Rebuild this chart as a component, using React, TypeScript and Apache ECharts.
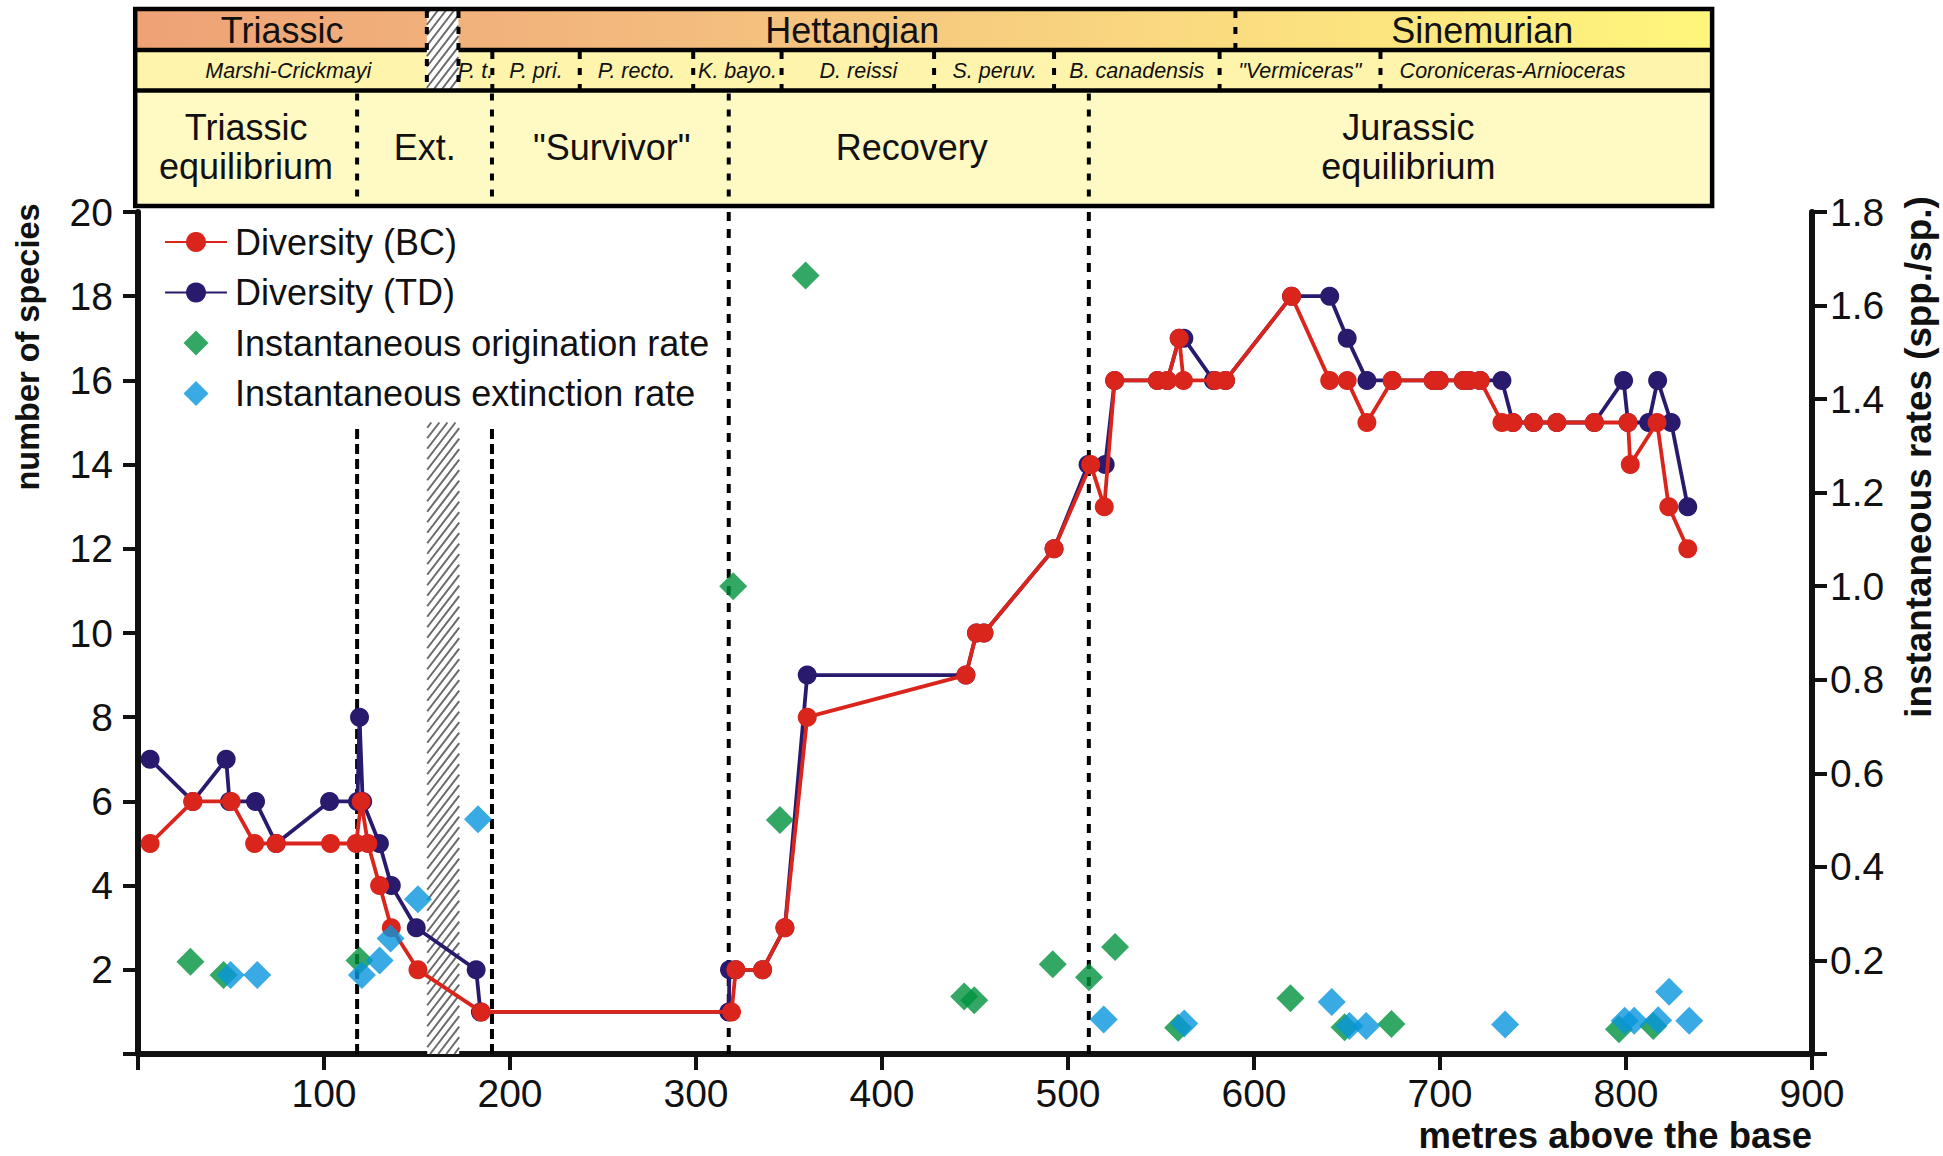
import React, { useEffect, useRef } from "react";
import * as echarts from "echarts";

const FONT = '"Liberation Sans", Arial, Helvetica, sans-serif';
const RED = "#DA251D";
const NAVY = "#2A1A6E";
const GREEN = "#00923F";
const BLUE = "#0895DC";

// Diversity (BC): [metres, species]
const diversityBC: [number, number][] = [
  [6.5, 5], [29.5, 6], [50.1, 6], [62.7, 5], [74.3, 5], [103.5, 5], [117.3, 5], [120, 6],
  [123.6, 5], [129.9, 4], [136.2, 3], [150.5, 2], [184.6, 1], [319.1, 1], [321.4, 2], [335.8, 2],
  [347.8, 3], [359.8, 8], [445.1, 9], [450.8, 10], [454.8, 10], [492.5, 12], [512.2, 14], [519.5, 13],
  [525.1, 16], [548.1, 16], [553.4, 16], [559.8, 17], [562.1, 16], [579.2, 16], [584.7, 16], [620.2, 18],
  [640.7, 16], [650.1, 16], [660.7, 15], [674.3, 16], [696.3, 16], [699.6, 16], [712.5, 16], [715.8, 16],
  [721.6, 16], [733.3, 15], [739.2, 15], [750.3, 15], [762.8, 15], [783, 15], [801.1, 15], [802.3, 14],
  [816.7, 15], [823, 13], [833.2, 12],
];

// Diversity (TD): [metres, species]
const diversityTD: [number, number][] = [
  [6.5, 7], [29.5, 6], [47.4, 7], [49.2, 6], [63.2, 6], [74.3, 5], [103, 6], [118, 6],
  [119.1, 8], [120.8, 6], [129.8, 5], [136.2, 4], [149.6, 3], [181.8, 2], [184.1, 1], [317.6, 1],
  [318, 2], [321.4, 2], [335.8, 2], [347.8, 3], [359.8, 9], [445.1, 9], [450.8, 10], [454.8, 10],
  [492.5, 12], [510.8, 14], [520, 14], [525.1, 16], [548.1, 16], [553.4, 16], [559.8, 17], [562.3, 17],
  [578.2, 16], [584.7, 16], [620.2, 18], [640.7, 18], [650.1, 17], [660.7, 16], [674.3, 16], [696.3, 16],
  [699.6, 16], [712.5, 16], [715.8, 16], [721.6, 16], [733.3, 16], [739.2, 15], [750.3, 15], [762.8, 15],
  [783, 15], [798.7, 16], [801.1, 15], [812.2, 15], [817, 16], [824.3, 15], [833.2, 13],
];

// Instantaneous origination rate: [metres, rate]
const originationRate: [number, number][] = [
  [28.2, 0.197], [46, 0.169], [119.1, 0.2], [320, 1.0], [345.1, 0.5], [358.9, 1.664],
  [444.2, 0.123], [449.6, 0.115], [491.8, 0.192], [511.3, 0.164], [525.3, 0.229], [559.2, 0.056],
  [619.6, 0.119], [648.7, 0.057], [673.9, 0.064], [796.2, 0.053], [814.7, 0.06],
];

// Instantaneous extinction rate: [metres, rate]
const extinctionRate: [number, number][] = [
  [49.8, 0.169], [64.1, 0.169], [120.4, 0.169], [129.9, 0.2], [135.8, 0.247], [150.5, 0.331],
  [182.8, 0.502], [519.2, 0.074], [562.5, 0.065], [641.8, 0.111], [651.3, 0.06], [660.3, 0.06],
  [735, 0.063], [799.3, 0.071], [804.4, 0.071], [817.3, 0.072], [823.2, 0.133], [834, 0.071],
];

// Hatched extinction gap in plot: [from, to, top]
const hatchedGap: [number, number, number][] = [[155.5, 172.7, 15]];
// Dashed interval dividers in plot
const dividerMetres = [117.8, 190.3, 317.6, 511.2];
const dividerTops = [14.9, 14.9, 20, 20];

// Header (metres)
const headerSpan = [-1.5, 846.3];
const gapBounds = [155.3, 172.3];
const stageNames = ["Triassic", "Hettangian", "Sinemurian"];
const stageLabelAt = [77.5, 384, 722.7];
const stageDividers = [590];
const zoneNames = [
  "Marshi-Crickmayi", "P. t.", "P. pri.", "P. recto.", "K. bayo.", "D. reissi",
  "S. peruv.", "B. canadensis", "\"Vermiceras\"", "Coroniceras-Arnioceras",
];
const zoneLabelAt = [80.8, 181.4, 214, 268, 322.3, 387.3, 460.6, 537, 624.6, 739];
const zoneDividers = [190.5, 237.5, 298.5, 346, 428, 492.5, 581.5, 668];
const intervalNames = ["Triassic\nequilibrium", "Ext.", "\"Survivor\"", "Recovery", "Jurassic\nequilibrium"];
const intervalLabelAt = [58.1, 154.1, 254.7, 416, 683];
const intervalDividers = [117.8, 190.3, 317.6, 511.2];

const DIAMOND = "path://M10,0L20,10L10,20L0,10Z";

function hatchSegments(x0: number, y0: number, x1: number, y1: number, step: number, k: number) {
  const segs: { x1: number; y1: number; x2: number; y2: number }[] = [];
  const cMin = y0 + k * x0;
  const cMax = y1 + k * x1;
  for (let c = cMin + step / 2; c < cMax; c += step) {
    const xa = Math.max(x0, (c - y1) / k);
    const xb = Math.min(x1, (c - y0) / k);
    if (xb > xa) segs.push({ x1: xa, y1: c - k * xa, x2: xb, y2: c - k * xb });
  }
  return segs;
}

function buildOption(): any {
  const axisLabelBase = { fontSize: 39, color: "#111", fontFamily: FONT };
  return {
    animation: false,
    backgroundColor: "#ffffff",
    grid: { left: 138, right: 131, top: 212, bottom: 102, containLabel: false, outerBoundsMode: "none" },
    legend: {
      orient: "vertical",
      left: 159,
      top: 219,
      itemWidth: 62,
      itemHeight: 25,
      itemGap: 14.5,
      selectedMode: false,
      textStyle: { fontSize: 36, fontFamily: FONT, color: "#111", lineHeight: 36, padding: [0, 0, 0, 3] },
      data: [
        { name: "Diversity (BC)" },
        { name: "Diversity (TD)" },
        { name: "Instantaneous origination rate", icon: DIAMOND },
        { name: "Instantaneous extinction rate", icon: DIAMOND },
      ],
    },
    xAxis: {
      type: "value",
      min: 0,
      max: 900,
      interval: 100,
      axisLine: { show: true, onZero: false, lineStyle: { color: "#111", width: 6 } },
      axisTick: { show: true, length: 16, lineStyle: { color: "#111", width: 4 } },
      axisLabel: { ...axisLabelBase, margin: 20, formatter: (v: number) => (v === 0 ? "" : String(v)) },
      splitLine: { show: false },
    },
    yAxis: [
      {
        type: "value",
        position: "left",
        min: 0,
        max: 20,
        interval: 2,
        axisLine: { show: true, onZero: false, lineStyle: { color: "#111", width: 6 } },
        axisTick: { show: true, length: 15, lineStyle: { color: "#111", width: 4 } },
        axisLabel: { ...axisLabelBase, margin: 25, formatter: (v: number) => (v === 0 ? "" : String(v)) },
        splitLine: { show: false },
      },
      {
        type: "value",
        position: "right",
        min: 0,
        max: 1.8,
        interval: 0.2,
        axisLine: { show: true, onZero: false, lineStyle: { color: "#111", width: 6 } },
        axisTick: { show: true, length: 15, lineStyle: { color: "#111", width: 4 } },
        axisLabel: { ...axisLabelBase, margin: 18, formatter: (v: number) => (v === 0 ? "" : v.toFixed(1)) },
        splitLine: { show: false },
      },
    ],
    series: [
      {
        type: "custom",
        name: "gap",
        coordinateSystem: "cartesian2d",
        xAxisIndex: 0,
        yAxisIndex: 0,
        z: 1,
        silent: true,
        data: hatchedGap,
        encode: { x: [0, 1], y: 2 },
        renderItem: (params: any, api: any) => {
          const p0 = api.coord([api.value(0), 0]);
          const p1 = api.coord([api.value(1), api.value(2)]);
          const x0 = p0[0], x1 = p1[0], yb = p0[1], yt = p1[1];
          const lines = hatchSegments(x0, yt, x1, yb, 10.5, 1.3).map((s) => ({
            type: "line",
            shape: s,
            style: { stroke: "#6A6A6A", lineWidth: 2 },
          }));
          return {
            type: "group",
            children: [
              { type: "rect", shape: { x: x0, y: yt, width: x1 - x0, height: yb - yt }, style: { fill: "#ffffff" } },
              ...lines,
            ],
          };
        },
      },
      {
        type: "custom",
        name: "dividers",
        coordinateSystem: "cartesian2d",
        xAxisIndex: 0,
        yAxisIndex: 0,
        z: 2,
        silent: true,
        data: dividerMetres.map((m, i) => [m, dividerTops[i]]),
        encode: { x: 0, y: 1 },
        renderItem: (params: any, api: any) => {
          const a = api.coord([api.value(0), 0]);
          const b = api.coord([api.value(0), api.value(1)]);
          const big = api.value(1) >= 20;
          return {
            type: "line",
            shape: { x1: a[0], y1: a[1], x2: b[0], y2: b[1] },
            style: { stroke: "#000", lineWidth: 4, lineDash: big ? [9, 8] : [10, 5] },
          };
        },
      },
      {
        name: "Diversity (TD)",
        type: "line",
        data: diversityTD,
        yAxisIndex: 0,
        symbol: "circle",
        symbolSize: 19,
        showAllSymbol: true,
        z: 3,
        itemStyle: { color: NAVY },
        lineStyle: { color: NAVY, width: 3.8 },
        emphasis: { disabled: true },
      },
      {
        name: "Diversity (BC)",
        type: "line",
        data: diversityBC,
        yAxisIndex: 0,
        symbol: "circle",
        symbolSize: 19,
        showAllSymbol: true,
        z: 4,
        itemStyle: { color: RED },
        lineStyle: { color: RED, width: 3.8 },
        emphasis: { disabled: true },
      },
      {
        name: "Instantaneous origination rate",
        type: "scatter",
        data: originationRate,
        yAxisIndex: 1,
        symbol: "diamond",
        symbolSize: 28,
        z: 5,
        itemStyle: { color: GREEN },
        emphasis: { disabled: true },
      },
      {
        name: "Instantaneous extinction rate",
        type: "scatter",
        data: extinctionRate,
        yAxisIndex: 1,
        symbol: "diamond",
        symbolSize: 28,
        z: 6,
        itemStyle: { color: BLUE },
        emphasis: { disabled: true },
      },
    ],
  };
}

function textEl(text: string, x: number, y: number, extra: any = {}) {
  return {
    type: "text",
    x,
    y,
    style: {
      text,
      fill: "#111",
      fontFamily: FONT,
      align: "center",
      verticalAlign: "middle",
      textAlign: "center",
      textVerticalAlign: "middle",
      ...extra,
    },
  };
}

function buildGraphics(px: (m: number) => number): any[] {
  const T = 9, R1 = 50, R2 = 90.5, B = 206;
  const L = px(headerSpan[0]);
  const R = px(headerSpan[1]);
  const gx0 = px(gapBounds[0]);
  const gx1 = px(gapBounds[1]);
  const children: any[] = [];
  children.push({
    type: "rect",
    shape: { x: L, y: T, width: R - L, height: R1 - T },
    style: {
      fill: new echarts.graphic.LinearGradient(0, 0, 1, 0, [
        { offset: 0, color: "#EEA276" },
        { offset: 0.35, color: "#F3BC7E" },
        { offset: 0.72, color: "#FBDF80" },
        { offset: 1, color: "#FFF67C" },
      ]),
    },
  });
  children.push({ type: "rect", shape: { x: L, y: R1, width: R - L, height: R2 - R1 }, style: { fill: "#FFF4AC" } });
  children.push({ type: "rect", shape: { x: L, y: R2, width: R - L, height: B - R2 }, style: { fill: "#FFF9C4" } });
  children.push({ type: "rect", shape: { x: gx0, y: T, width: gx1 - gx0, height: R2 - T }, style: { fill: "#ffffff" } });
  hatchSegments(gx0, T, gx1, R2, 10.5, 1.3).forEach((s) =>
    children.push({ type: "line", shape: s, style: { stroke: "#6A6A6A", lineWidth: 2 } })
  );

  stageNames.forEach((n, i) => children.push(textEl(n, px(stageLabelAt[i]), 30, { fontSize: 36 })));
  zoneNames.forEach((n, i) =>
    children.push(textEl(n, px(zoneLabelAt[i]), 70.5, { fontSize: 21.5, fontStyle: "italic" }))
  );
  intervalNames.forEach((n, i) =>
    children.push(textEl(n, px(intervalLabelAt[i]), 147, { fontSize: 36, lineHeight: 39 }))
  );

  const solid = { stroke: "#000", lineWidth: 4.5 };
  const dashed = { stroke: "#000", lineWidth: 4, lineDash: [7, 9] };
  children.push({ type: "line", shape: { x1: L, y1: R1, x2: gx0, y2: R1 }, style: solid });
  children.push({ type: "line", shape: { x1: gx1, y1: R1, x2: R, y2: R1 }, style: solid });
  children.push({ type: "line", shape: { x1: L, y1: R2, x2: R, y2: R2 }, style: solid });
  [gx0, gx1].forEach((x) =>
    children.push({ type: "line", shape: { x1: x, y1: T + 2, x2: x, y2: R2 }, style: dashed })
  );
  stageDividers.forEach((m) =>
    children.push({ type: "line", shape: { x1: px(m), y1: T + 2, x2: px(m), y2: R1 }, style: dashed })
  );
  zoneDividers.forEach((m) =>
    children.push({ type: "line", shape: { x1: px(m), y1: R1 + 2, x2: px(m), y2: R2 }, style: dashed })
  );
  intervalDividers.forEach((m) =>
    children.push({ type: "line", shape: { x1: px(m), y1: R2 + 3, x2: px(m), y2: B }, style: dashed })
  );
  children.push({
    type: "rect",
    shape: { x: L, y: T, width: R - L, height: B - T },
    style: { fill: "none", stroke: "#000", lineWidth: 4.5 },
  });

  const titles: any[] = [
    {
      type: "text",
      x: 28,
      y: 347,
      rotation: Math.PI / 2,
      style: {
        text: "number of species", fontSize: 32.5, fontWeight: "bold", fontFamily: FONT, fill: "#111",
        align: "center", verticalAlign: "middle", textAlign: "center", textVerticalAlign: "middle",
      },
    },
    {
      type: "text",
      x: 1918,
      y: 457,
      rotation: Math.PI / 2,
      style: {
        text: "instantaneous rates (spp./sp.)", fontSize: 36.8, fontWeight: "bold", fontFamily: FONT, fill: "#111",
        align: "center", verticalAlign: "middle", textAlign: "center", textVerticalAlign: "middle",
      },
    },
    {
      type: "text",
      x: px(900),
      y: 1135,
      style: {
        text: "metres above the base", fontSize: 36.5, fontWeight: "bold", fontFamily: FONT, fill: "#111",
        align: "right", verticalAlign: "middle", textAlign: "right", textVerticalAlign: "middle",
      },
    },
  ];

  return [{ type: "group", children }, ...titles];
}

export default function App() {
  const ref = useRef<HTMLDivElement>(null);
  useEffect(() => {
    if (!ref.current) return;
    const chart = echarts.init(ref.current, null, { renderer: "svg" });
    chart.setOption(buildOption());
    const px = (m: number) => chart.convertToPixel({ xAxisIndex: 0 }, m) as number;
    chart.setOption({ graphic: { elements: buildGraphics(px) } });
    return () => chart.dispose();
  }, []);
  return (
    <div
      ref={ref}
      style={{ position: "fixed", left: 0, top: 0, width: 1943, height: 1156, background: "#ffffff" }}
    />
  );
}
